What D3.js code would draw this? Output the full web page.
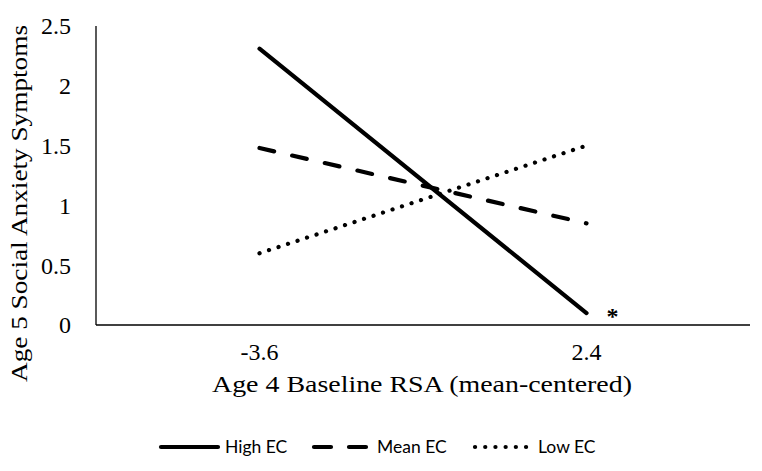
<!DOCTYPE html>
<html>
<head>
<meta charset="utf-8">
<script src="https://cdn.jsdelivr.net/npm/d3@7"></script>
<style>
  body { margin: 0; background: #fff; }
  svg { display: block; }
</style>
</head>
<body>
<svg id="chart" width="762" height="471"></svg>
<script>
// x categories (RSA, mean-centered) and predicted values per EC level
var categories = ["-3.6", "2.4"];
var highEC = [2.31, 0.10];
var meanEC = [1.48, 0.85];
var lowEC = [0.60, 1.50];
var yTicks = [0, 0.5, 1, 1.5, 2, 2.5];
var seriesNames = ["High EC", "Mean EC", "Low EC"];

var svg = d3.select('#chart');
var serif = "'Liberation Serif', 'Times New Roman', serif";

var x = d3.scaleBand()
    .domain(categories)
    .range([96, 750])
    .padding(0);
var y = d3.scaleLinear()
    .domain([0, 2.5])
    .range([325, 26]);

// axes lines (no tick marks)
svg.append('line')
    .attr('x1', 96).attr('x2', 96)
    .attr('y1', y(2.5)).attr('y2', y(0))
    .attr('stroke', '#000').attr('stroke-width', 1.3);
svg.append('line')
    .attr('x1', 96).attr('x2', 750)
    .attr('y1', y(0)).attr('y2', y(0))
    .attr('stroke', '#000').attr('stroke-width', 1.3);

// y tick labels
svg.selectAll('.ytick')
    .data(yTicks)
    .enter().append('text')
    .attr('x', 71)
    .attr('y', function(d){ return y(d); })
    .attr('dy', '0.35em')
    .attr('text-anchor', 'end')
    .style('font-family', serif)
    .style('font-size', '24px')
    .text(function(d){ return d; });

// x tick labels
svg.selectAll('.xtick')
    .data(categories)
    .enter().append('text')
    .attr('x', function(d){ return x(d) + x.bandwidth()/2; })
    .attr('y', 360)
    .attr('text-anchor', 'middle')
    .style('font-family', serif)
    .style('font-size', '24px')
    .text(function(d){ return d; });

// axis titles
svg.append('text')
    .attr('x', 212)
    .attr('y', 392)
    .attr('textLength', 420)
    .attr('lengthAdjust', 'spacingAndGlyphs')
    .style('font-family', serif)
    .style('font-size', '24px')
    .text('Age 4 Baseline RSA (mean-centered)');
svg.append('text')
    .attr('transform', 'translate(27,382) rotate(-90)')
    .attr('textLength', 357)
    .attr('lengthAdjust', 'spacingAndGlyphs')
    .style('font-family', serif)
    .style('font-size', '24px')
    .text('Age 5 Social Anxiety Symptoms');

// lines
var styles = [
    {data: highEC, dash: null},
    {data: meanEC, dash: '15,18.5'},
    {data: lowEC, dash: '0.1,9.9'}
];
var lineFunc = d3.line()
    .x(function(d, i){ return x(categories[i]) + x.bandwidth()/2; })
    .y(function(d){ return y(d); });

styles.forEach(function(s){
    svg.append('path')
        .attr('d', lineFunc(s.data))
        .attr('fill', 'none')
        .attr('stroke', '#000')
        .attr('stroke-width', 4.2)
        .attr('stroke-linecap', 'round')
        .attr('stroke-dasharray', s.dash);
});

// significance marker
svg.append('text')
    .attr('x', x(categories[1]) + x.bandwidth()/2 + 26)
    .attr('y', y(highEC[1]) + 11)
    .attr('text-anchor', 'middle')
    .style('font-family', serif)
    .style('font-size', '24px')
    .style('font-weight', 'bold')
    .text('*');

// legend
var legendItems = [
    {x1: 161, x2: 218, tx: 225, dash: null, text: seriesNames[0]},
    {x1: 314, x2: 366, tx: 377, dash: '17,18', text: seriesNames[1]},
    {x1: 475, x2: 526.5, tx: 538, dash: '0.1,10.1', text: seriesNames[2]}
];
legendItems.forEach(function(d){
    svg.append('line')
        .attr('x1', d.x1).attr('x2', d.x2)
        .attr('y1', 447).attr('y2', 447)
        .attr('stroke', '#000')
        .attr('stroke-width', 4.2)
        .attr('stroke-linecap', 'round')
        .attr('stroke-dasharray', d.dash);
    svg.append('text')
        .attr('x', d.tx)
        .attr('y', 447)
        .attr('dy', '0.35em')
        .style('font-family', "Lato, 'Open Sans', sans-serif")
        .style('font-size', '17.5px')
        .text(d.text);
});
</script>
</body>
</html>
